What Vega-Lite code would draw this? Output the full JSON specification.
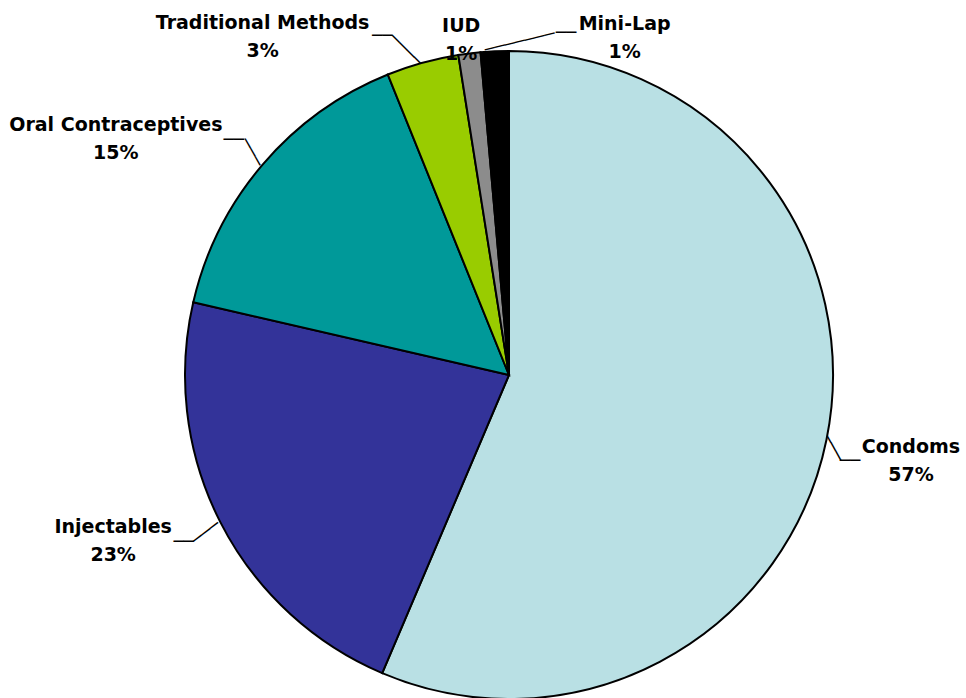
{
  "$schema": "https://vega.github.io/schema/vega-lite/v6.json",
  "width": 900,
  "height": 640,
  "autosize": {"type": "none"},
  "padding": {"left": 59, "top": 55, "right": 7, "bottom": 3},
  "background": "white",
  "config": {
    "view": {"stroke": null},
    "text": {"font": "DejaVu Sans", "fontSize": 19, "fontWeight": "bold", "lineBreak": "\n", "lineHeight": 28, "align": "center", "baseline": "middle", "color": "#000000"}
  },
  "data": {
    "values": [
      {"method": "Condoms", "value": 56.4, "label": "Condoms\n57%", "order": 1},
      {"method": "Injectables", "value": 22.2, "label": "Injectables\n23%", "order": 2},
      {"method": "Oral Contraceptives", "value": 15.3, "label": "Oral Contraceptives\n15%", "order": 3},
      {"method": "Traditional Methods", "value": 3.6, "label": "Traditional Methods\n3%", "order": 4},
      {"method": "IUD", "value": 1.1, "label": "IUD\n1%", "order": 5},
      {"method": "Mini-Lap", "value": 1.4, "label": "Mini-Lap\n1%", "order": 6}
    ]
  },
  "encoding": {
    "theta": {"field": "value", "type": "quantitative", "stack": true},
    "order": {"field": "order", "type": "quantitative", "sort": "ascending"}
  },
  "layer": [
    {
      "mark": {"type": "text", "radius": 324, "dx": 9.5, "dy": -1.75, "angle": 61.3, "fontSize": 17, "fontWeight": "bold"},
      "encoding": {"text": {"condition": {"test": "datum.method === 'Condoms'", "value": "───"}, "value": ""}}
    },
    {
      "mark": {"type": "text", "radius": 324, "dx": 23.5, "dy": 21, "fontSize": 17, "fontWeight": "bold"},
      "encoding": {"text": {"condition": {"test": "datum.method === 'Condoms'", "value": "──"}, "value": ""}}
    },
    {
      "mark": {"type": "text", "radius": 324, "dx": -17.5, "dy": -0.3, "angle": -37.2, "fontSize": 17, "fontWeight": "bold"},
      "encoding": {"text": {"condition": {"test": "datum.method === 'Injectables'", "value": "───"}, "value": ""}}
    },
    {
      "mark": {"type": "text", "radius": 324, "dx": -36.7, "dy": 19.6, "fontSize": 17, "fontWeight": "bold"},
      "encoding": {"text": {"condition": {"test": "datum.method === 'Injectables'", "value": "──"}, "value": ""}}
    },
    {
      "mark": {"type": "text", "radius": 324, "dx": -15.9, "dy": 3.3, "angle": 60.5, "fontSize": 17, "fontWeight": "bold"},
      "encoding": {"text": {"condition": {"test": "datum.method === 'Oral Contraceptives'", "value": "───"}, "value": ""}}
    },
    {
      "mark": {"type": "text", "radius": 324, "dx": -28.8, "dy": -24.6, "fontSize": 17, "fontWeight": "bold"},
      "encoding": {"text": {"condition": {"test": "datum.method === 'Oral Contraceptives'", "value": "──"}, "value": ""}}
    },
    {
      "mark": {"type": "text", "radius": 324, "dx": -20.3, "dy": 2.65, "angle": 44.7, "fontSize": 17, "fontWeight": "bold"},
      "encoding": {"text": {"condition": {"test": "datum.method === 'Traditional Methods'", "value": "────"}, "value": ""}}
    },
    {
      "mark": {"type": "text", "radius": 324, "dx": -40.3, "dy": -26.3, "fontSize": 17, "fontWeight": "bold"},
      "encoding": {"text": {"condition": {"test": "datum.method === 'Traditional Methods'", "value": "──"}, "value": ""}}
    },
    {
      "mark": {"type": "text", "radius": 324, "dx": 26.6, "dy": -2.9, "angle": -13.6, "fontSize": 17, "fontWeight": "bold"},
      "encoding": {"text": {"condition": {"test": "datum.method === 'Mini-Lap'", "value": "───────"}, "value": ""}}
    },
    {
      "mark": {"type": "text", "radius": 324, "dx": 71.2, "dy": -18, "fontSize": 17, "fontWeight": "bold"},
      "encoding": {"text": {"condition": {"test": "datum.method === 'Mini-Lap'", "value": "──"}, "value": ""}}
    },
    {
      "mark": {"type": "arc", "radius": 324, "stroke": "#000000", "strokeWidth": 2},
      "encoding": {
        "color": {
          "field": "method",
          "type": "nominal",
          "scale": {
            "domain": ["Condoms", "Injectables", "Oral Contraceptives", "Traditional Methods", "IUD", "Mini-Lap"],
            "range": ["#B9E0E4", "#333399", "#009999", "#99CC00", "#8C8C8C", "#000000"]
          },
          "legend": null
        }
      }
    },
    {
      "mark": {"type": "text", "radius": 350, "dx": 59, "dy": 2},
      "encoding": {"text": {"condition": {"test": "datum.method === 'Condoms'", "field": "label", "type": "nominal"}, "value": ""}}
    },
    {
      "mark": {"type": "text", "radius": 350, "dx": -84, "dy": -6.5},
      "encoding": {"text": {"condition": {"test": "datum.method === 'Injectables'", "field": "label", "type": "nominal"}, "value": ""}}
    },
    {
      "mark": {"type": "text", "radius": 350, "dx": -127, "dy": -23},
      "encoding": {"text": {"condition": {"test": "datum.method === 'Oral Contraceptives'", "field": "label", "type": "nominal"}, "value": ""}}
    },
    {
      "mark": {"type": "text", "radius": 350, "dx": -153, "dy": -15},
      "encoding": {"text": {"condition": {"test": "datum.method === 'Traditional Methods'", "field": "label", "type": "nominal"}, "value": ""}}
    },
    {
      "mark": {"type": "text", "radius": 350, "dx": -5, "dy": -2},
      "encoding": {"text": {"condition": {"test": "datum.method === 'IUD'", "field": "label", "type": "nominal"}, "value": ""}}
    },
    {
      "mark": {"type": "text", "radius": 350, "dx": 131, "dy": -1.5},
      "encoding": {"text": {"condition": {"test": "datum.method === 'Mini-Lap'", "field": "label", "type": "nominal"}, "value": ""}}
    }
  ]
}
